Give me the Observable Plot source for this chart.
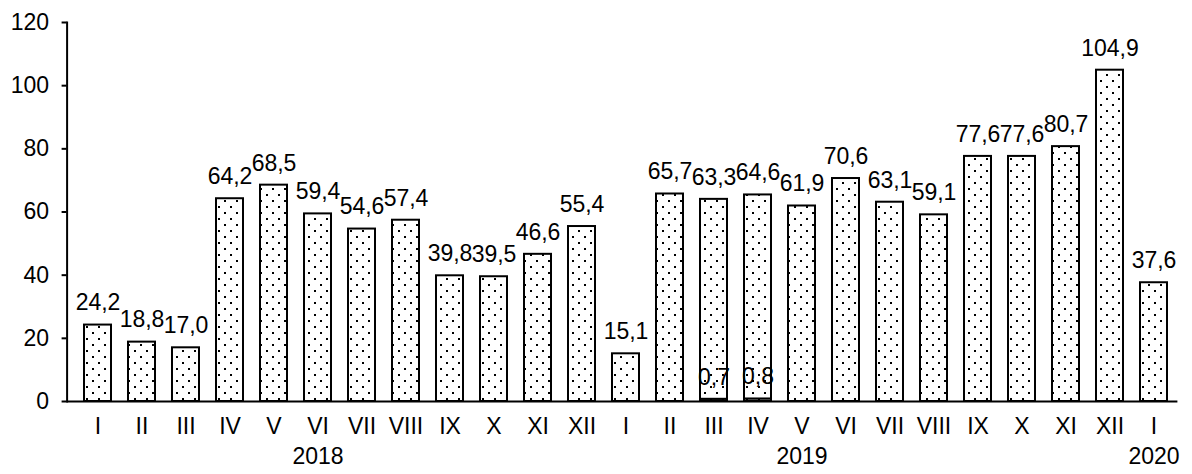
<!DOCTYPE html>
<html><head><meta charset="utf-8">
<script src="https://cdn.jsdelivr.net/npm/d3@7"></script>
<script src="https://cdn.jsdelivr.net/npm/@observablehq/plot@0.6"></script>
<style>body{margin:0;background:#fff} svg{display:block}</style>
</head><body><div id="chart"></div>
<script>
const months = ["I","II","III","IV","V","VI","VII","VIII","IX","X","XI","XII",
                "I","II","III","IV","V","VI","VII","VIII","IX","X","XI","XII","I"];
const years = ["2018","2018","2018","2018","2018","2018","2018","2018","2018","2018","2018","2018",
               "2019","2019","2019","2019","2019","2019","2019","2019","2019","2019","2019","2019","2020"];
const mainValues = [24.2,18.8,17.0,64.2,68.5,59.4,54.6,57.4,39.8,39.5,46.6,55.4,
                    15.1,65.7,63.3,64.6,61.9,70.6,63.1,59.1,77.6,77.6,80.7,104.9,37.6];
const smallValues = [null,null,null,null,null,null,null,null,null,null,null,null,
                     null,null,0.7,0.8,null,null,null,null,null,null,null,null,null];
const yTicks = [0,20,40,60,80,100,120];
const yearLabels = ["2018","2019","2020"];
const yearLabelMonth = ["VI","V","I"];

const keys = months.map((m,i) => years[i] + "-" + m);
const rows = [];
keys.forEach((k,i) => {
  if (smallValues[i] != null) rows.push({key:k, series:"b", value:smallValues[i]});
});
keys.forEach((k,i) => rows.push({key:k, series:"a", value:mainValues[i]}));

const fmt = v => d3.format(".1f")(v).replace(".", ",");
const FS = 23;

const plot = Plot.plot({
  width: 1192, height: 474,
  marginLeft: 66.6, marginRight: 6.6, marginTop: 22, marginBottom: 73,
  style: {fontFamily: "'Liberation Sans', Arial, sans-serif", fontSize: FS + "px", color: "#000", background: "#fff", overflow: "visible"},
  x: {domain: keys, padding: 0.38, axis: null},
  y: {domain: [0,120], axis: null},
  marks: [
    Plot.barY(rows, Plot.stackY({x: "key", y: "value", z: "series", fill: "url(#dots)", stroke: "#000", strokeWidth: 2})),
    Plot.text(rows, Plot.stackY2({x: "key", y: "value", z: "series", text: d => fmt(d.value), dy: -22, fill: "#000", fontSize: FS})),
    Plot.axisY({ticks: yTicks, tickSize: 5, tickPadding: 13, strokeWidth: 2, fontSize: FS, label: null, tickFormat: d => String(d)}),
    Plot.frame({anchor: "left", strokeWidth: 2}),
    Plot.ruleY([0], {strokeWidth: 2, insetRight: 8}),
    Plot.text(keys, {x: d => d, text: (d,i) => months[i], frameAnchor: "bottom", dy: 32, fontSize: FS, fill: "#000"}),
    Plot.text(yearLabels, {x: (d,i) => d + "-" + yearLabelMonth[i], text: d => d, frameAnchor: "bottom", dy: 62, fontSize: FS, fill: "#000"})
  ]
});

const defs = d3.select(plot).insert("defs", ":first-child");
const pat = defs.append("pattern").attr("id", "dots").attr("patternUnits", "userSpaceOnUse")
  .attr("width", 12).attr("height", 12);
pat.append("rect").attr("width", 12).attr("height", 12).attr("fill", "#fff");
pat.append("rect").attr("x", 2).attr("y", 2).attr("width", 2).attr("height", 2).attr("fill", "#000");
pat.append("rect").attr("x", 8).attr("y", 8).attr("width", 2).attr("height", 2).attr("fill", "#000");

document.getElementById("chart").appendChild(plot);
</script>
</body></html>
